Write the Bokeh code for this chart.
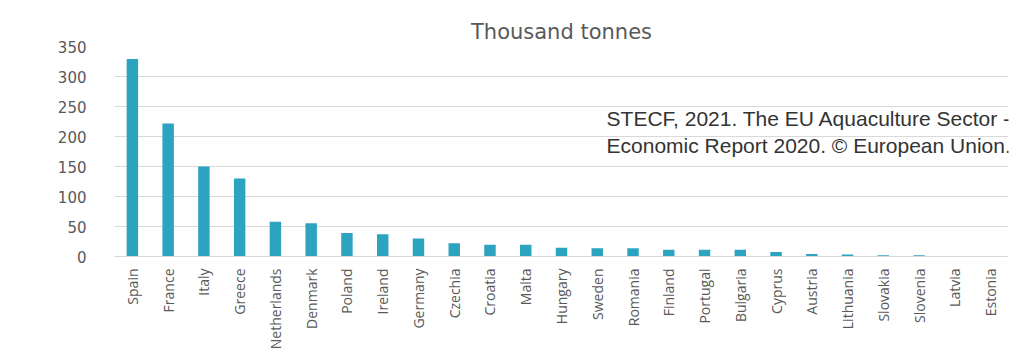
from bokeh.plotting import figure
from bokeh.models import ColumnDataSource, Range1d, FixedTicker, Title, Label, BoxAnnotation
from bokeh.embed import file_html
from bokeh.resources import INLINE
import math

countries = ["Spain", "France", "Italy", "Greece", "Netherlands", "Denmark", "Poland",
             "Ireland", "Germany", "Czechia", "Croatia", "Malta", "Hungary", "Sweden",
             "Romania", "Finland", "Portugal", "Bulgaria", "Cyprus", "Austria",
             "Lithuania", "Slovakia", "Slovenia", "Latvia", "Estonia"]
values = [329, 221.5, 150, 130, 58, 55.5, 39, 37, 30, 22, 19.6, 19.6, 14.7, 13.6,
          13.6, 11.4, 11.4, 11.4, 7.6, 4.3, 3.3, 2, 2, 0.3, 0.2]
y_ticks = [0, 50, 100, 150, 200, 250, 300, 350]
title_text = "Thousand tonnes"
source_lines = ["STECF, 2021. The EU Aquaculture Sector -",
                "Economic Report 2020. \u00a9 European Union."]

src = ColumnDataSource(dict(x=countries, top=values))

p = figure(x_range=countries, y_range=Range1d(0, 350), width=1017, height=357,
           output_backend="svg", toolbar_location=None,
           min_border_left=114, min_border_right=9, min_border_top=46, min_border_bottom=101)
p.x_range.range_padding = 0
p.outline_line_color = None
p.background_fill_color = "white"
p.border_fill_color = "white"

p.vbar(x="x", top="top", width=0.32, source=src, fill_color="#2CA3BF", line_color=None)

p.add_layout(Title(text=title_text, align="center", text_font="DejaVu Sans",
                   text_font_size="21px", text_font_style="normal",
                   text_color="#595959", standoff=6), "above")

for line, yv in zip(source_lines, [229.8, 185]):
    p.add_layout(Label(x=13.76, y=yv, text=line, text_font="Liberation Sans",
                       text_font_size="21px", text_color="#333333",
                       text_baseline="middle", text_align="left"))

p.add_layout(BoxAnnotation(left=-100, top=-42, right=1100, bottom=500,
                           left_units="screen", right_units="screen",
                           top_units="screen", bottom_units="screen",
                           fill_color=None, line_color="#e0e0e0", line_width=1))

p.xgrid.grid_line_color = None
p.ygrid.grid_line_color = "#d9d9d9"
p.ygrid.grid_line_width = 1

p.yaxis.ticker = FixedTicker(ticks=y_ticks)
p.yaxis.axis_line_color = None
p.yaxis.major_tick_line_color = None
p.yaxis.minor_tick_line_color = None
p.yaxis.major_label_standoff = 22
p.yaxis.major_label_text_font = "DejaVu Sans"
p.yaxis.major_label_text_font_size = "15px"
p.yaxis.major_label_text_color = "#595959"

p.xaxis.axis_line_color = "#d9d9d9"
p.xaxis.major_tick_line_color = None
p.xaxis.minor_tick_line_color = None
p.xaxis.major_label_orientation = math.pi / 2
p.xaxis.major_label_standoff = 6
p.xaxis.major_label_text_font = "Open Sans"
p.xaxis.major_label_text_font_size = "14px"
p.xaxis.major_label_text_color = "#595959"

open("out.html", "w").write(file_html(p, INLINE))
